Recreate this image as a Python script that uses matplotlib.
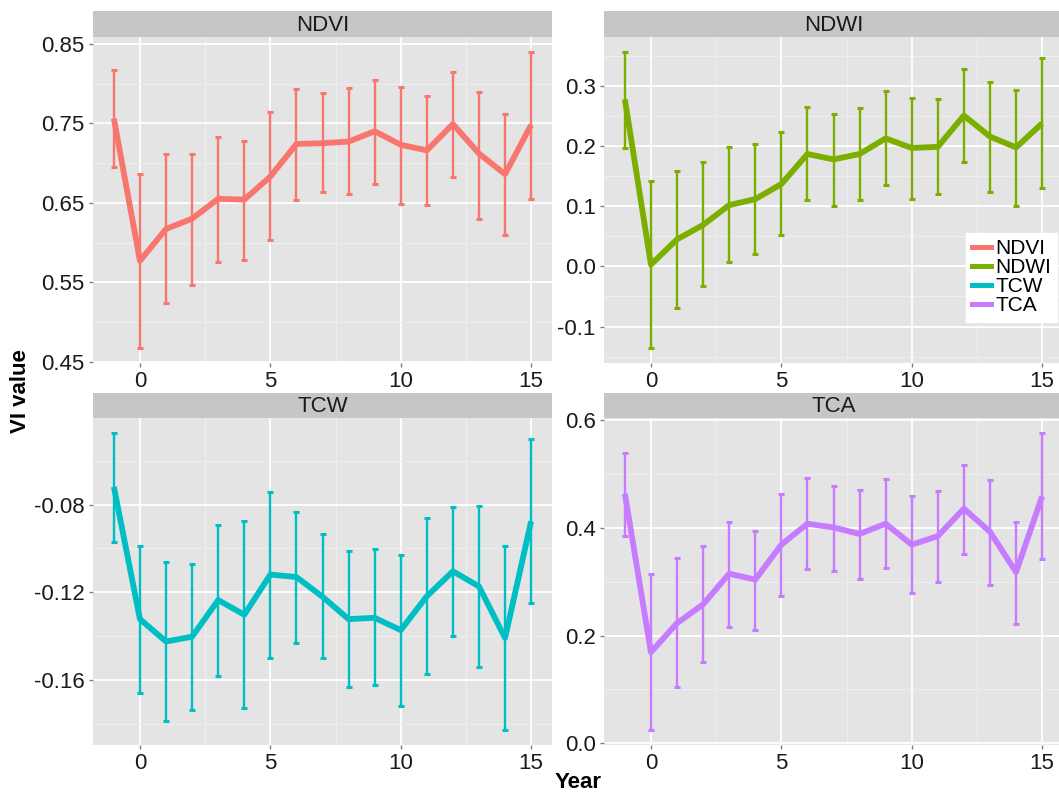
import matplotlib
matplotlib.use("Agg")
import matplotlib.pyplot as plt
from matplotlib.ticker import FixedLocator, FormatStrFormatter
from matplotlib.lines import Line2D
import numpy as np

plt.rcParams['font.family'] = ['Liberation Sans', 'DejaVu Sans']

years = list(range(-1, 16))

ndvi_mean = [0.756, 0.577, 0.617, 0.630, 0.655, 0.654, 0.683, 0.724, 0.725, 0.727,
             0.740, 0.723, 0.716, 0.749, 0.712, 0.686, 0.748]
ndvi_low = [0.695, 0.467, 0.524, 0.547, 0.576, 0.578, 0.603, 0.654, 0.664, 0.661,
            0.674, 0.648, 0.647, 0.683, 0.630, 0.610, 0.655]
ndvi_high = [0.817, 0.686, 0.711, 0.712, 0.733, 0.728, 0.764, 0.793, 0.788, 0.794,
             0.805, 0.796, 0.785, 0.814, 0.790, 0.762, 0.840]

ndwi_mean = [0.278, 0.003, 0.045, 0.069, 0.102, 0.112, 0.137, 0.187, 0.178, 0.187,
             0.213, 0.197, 0.199, 0.251, 0.216, 0.198, 0.238]
ndwi_low = [0.197, -0.136, -0.069, -0.033, 0.008, 0.021, 0.052, 0.110, 0.101, 0.111,
            0.136, 0.112, 0.121, 0.173, 0.124, 0.101, 0.131]
ndwi_high = [0.357, 0.142, 0.159, 0.173, 0.199, 0.203, 0.224, 0.265, 0.254, 0.263,
             0.291, 0.281, 0.278, 0.329, 0.306, 0.293, 0.346]

tcw_mean = [-0.0719, -0.1322, -0.1424, -0.1402, -0.1235, -0.1302, -0.1119, -0.1130, -0.1220,
            -0.1322, -0.1316, -0.1372, -0.1218, -0.1104, -0.1173, -0.1408, -0.0876]
tcw_low = [-0.0972, -0.1659, -0.1786, -0.1735, -0.1580, -0.1728, -0.1500, -0.1433, -0.1500,
           -0.1632, -0.1624, -0.1719, -0.1573, -0.1399, -0.1542, -0.1828, -0.1249]
tcw_high = [-0.0473, -0.0987, -0.1062, -0.1071, -0.0894, -0.0873, -0.0741, -0.0835, -0.0932,
            -0.1011, -0.1004, -0.1030, -0.0861, -0.0809, -0.0805, -0.0987, -0.0503]

tca_mean = [0.464, 0.169, 0.223, 0.258, 0.315, 0.304, 0.369, 0.408, 0.401, 0.389,
            0.408, 0.369, 0.385, 0.436, 0.393, 0.318, 0.459]
tca_low = [0.385, 0.024, 0.104, 0.151, 0.216, 0.210, 0.274, 0.324, 0.320, 0.306,
           0.325, 0.280, 0.300, 0.351, 0.294, 0.221, 0.342]
tca_high = [0.540, 0.315, 0.344, 0.366, 0.412, 0.395, 0.464, 0.493, 0.478, 0.470,
            0.492, 0.460, 0.469, 0.518, 0.490, 0.411, 0.577]

panel_names = ["NDVI", "NDWI", "TCW", "TCA"]
colors = ["#F8766D", "#7CAE00", "#00BFC4", "#C77CFF"]
x_ticks = [0, 5, 10, 15]
y_ticks = {
    "NDVI": [0.45, 0.55, 0.65, 0.75, 0.85],
    "NDWI": [-0.1, 0.0, 0.1, 0.2, 0.3],
    "TCW": [-0.16, -0.12, -0.08],
    "TCA": [0.0, 0.2, 0.4, 0.6],
}
y_fmt = {"NDVI": "%.2f", "NDWI": "%.1f", "TCW": "%.2f", "TCA": "%.1f"}

series = {
    "NDVI": (ndvi_mean, ndvi_low, ndvi_high),
    "NDWI": (ndwi_mean, ndwi_low, ndwi_high),
    "TCW": (tcw_mean, tcw_low, tcw_high),
    "TCA": (tca_mean, tca_low, tca_high),
}

W, H = 1059, 794
fig = plt.figure(figsize=(W / 100, H / 100), dpi=100)
fig.patch.set_facecolor("white")

def px_axes(left, top, right, bottom, **kw):
    return fig.add_axes([left / W, 1 - bottom / H, (right - left) / W, (bottom - top) / H], **kw)

cols = [(93, 552), (604, 1063)]
rows = [(11, 37, 363), (393, 418, 745)]

PANEL = "#E4E4E4"
STRIP = "#C6C6C6"
MINOR = "#F0F0F0"
TICKC = "#7F7F7F"
FS = 16

for i, name in enumerate(panel_names):
    c = cols[i % 2]
    r = rows[i // 2]
    sax = px_axes(c[0], r[0], c[1], r[1])
    sax.set_facecolor(STRIP)
    sax.set_xticks([]); sax.set_yticks([])
    for s in sax.spines.values():
        s.set_visible(False)
    sax.text(0.5, 0.46, name, ha="center", va="center", fontsize=FS, color="#1A1A1A",
             transform=sax.transAxes)
    sax.set_zorder(3)

    ax = px_axes(c[0], r[1], c[1], r[2])
    ax.set_facecolor(PANEL)
    for s in ax.spines.values():
        s.set_visible(False)
    mean, low, high = series[name]
    mean = np.array(mean); low = np.array(low); high = np.array(high)
    lo, hi = low.min(), high.max()
    pad = (hi - lo) * 0.05
    ax.set_ylim(lo - pad, hi + pad)
    ax.set_xlim(-1.8, 15.8)

    yt = y_ticks[name]
    step = yt[1] - yt[0]
    ax.yaxis.set_major_locator(FixedLocator(yt))
    minors = [yt[0] - step / 2] + [v + step / 2 for v in yt]
    ax.yaxis.set_minor_locator(FixedLocator(minors))
    ax.yaxis.set_major_formatter(FormatStrFormatter(y_fmt[name]))
    ax.xaxis.set_major_locator(FixedLocator(x_ticks))
    ax.xaxis.set_minor_locator(FixedLocator([-2.5, 2.5, 7.5, 12.5]))

    ax.grid(which="major", color="white", linewidth=1.3, zorder=0)
    ax.grid(which="minor", color=MINOR, linewidth=0.6, zorder=0)
    ax.set_axisbelow(True)
    ax.tick_params(which="major", length=3, width=1, color=TICKC, labelsize=FS,
                   labelcolor="#1A1A1A", pad=3)
    ax.tick_params(which="minor", length=0)

    col = colors[i]
    ax.errorbar(years, mean, yerr=[mean - low, high - mean], fmt="none", ecolor=col,
                elinewidth=1.7, capsize=2.0, capthick=2.2, zorder=2)
    ax.plot(years, mean, color=col, linewidth=4.2, solid_joinstyle="round",
            solid_capstyle="butt", zorder=3)

    if name == "NDWI":
        handles = [Line2D([0], [0], color=cc, linewidth=3.6) for cc in colors]
        leg = fig.legend(handles, panel_names, loc="upper left",
                         bbox_to_anchor=(966 / W, 1 - 233 / H), fontsize=15,
                         frameon=True, fancybox=False, framealpha=1,
                         handlelength=0.9, handletextpad=0.2, labelspacing=0.0,
                         borderpad=0.3, borderaxespad=0)
        leg.get_frame().set_facecolor("white")
        leg.get_frame().set_edgecolor("white")
        leg.set_zorder(10)

fig.text(20 / W, 1 - 391 / H, "VI value", rotation=90, ha="center", va="center",
         fontsize=FS, fontweight="bold")
fig.text(578 / W, 1 - 783 / H, "Year", ha="center", va="center",
         fontsize=FS, fontweight="bold")

fig.savefig("out.png", dpi=100, facecolor="white")
